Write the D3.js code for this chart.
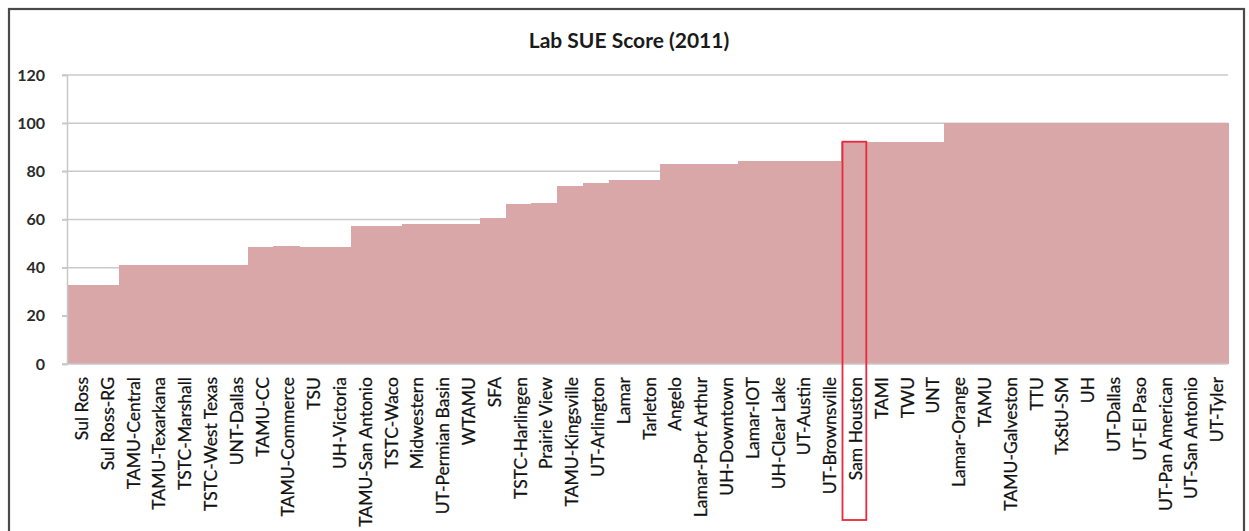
<!DOCTYPE html>
<html>
    <head>
        <meta charset="utf-8">
        <title>Lab SUE Score (2011)</title>
        <script src="https://d3js.org/d3.v7.min.js"></script>
        <style>
            body { margin: 0; background: #fff; }
            text { font-family: Lato, "Open Sans", sans-serif; }
        </style>
    </head>
    <body>
        <svg width="1249" height="531"></svg>

        <script>
            // campuses, in the order shown
            const campuses = ["Sul Ross", "Sul Ross-RG", "TAMU-Central", "TAMU-Texarkana", "TSTC-Marshall",
                "TSTC-West Texas", "UNT-Dallas", "TAMU-CC", "TAMU-Commerce", "TSU", "UH-Victoria",
                "TAMU-San Antonio", "TSTC-Waco", "Midwestern", "UT-Permian Basin", "WTAMU", "SFA",
                "TSTC-Harlingen", "Prairie View", "TAMU-Kingsville", "UT-Arlington", "Lamar", "Tarleton",
                "Angelo", "Lamar-Port Arthur", "UH-Downtown", "Lamar-IOT", "UH-Clear Lake", "UT-Austin",
                "UT-Brownsville", "Sam Houston", "TAMI", "TWU", "UNT", "Lamar-Orange", "TAMU",
                "TAMU-Galveston", "TTU", "TxStU-SM", "UH", "UT-Dallas", "UT-El Paso", "UT-Pan American",
                "UT-San Antonio", "UT-Tyler"];

            // lab SUE score
            const scores = [33, 33, 41, 41, 41, 41, 41, 48.7, 49.1, 48.7, 48.7,
                57.3, 57.3, 58, 58, 58.3, 60.5,
                66.4, 67, 74, 75, 76.5, 76.5,
                83, 83, 83, 84.4, 84.4, 84.4,
                84.4, 92.3, 92.3, 92.3, 92.3, 100, 100,
                100, 100, 100, 100, 100, 100, 100,
                100, 100];

            const yTicks = [0, 20, 40, 60, 80, 100, 120];
            const highlight = "Sam Houston";

            const data = campuses.map((c, i) => ({ name: c, score: scores[i] }));

            const svg = d3.select("svg");

            // outer frame
            svg.append("rect")
                .attr("x", 9).attr("y", 9)
                .attr("width", 1235).attr("height", 540)
                .attr("fill", "none")
                .attr("stroke", "#4a4a4a")
                .attr("stroke-width", 2.2);

            const x = d3.scaleBand()
                .domain(campuses)
                .range([67, 1228])
                .padding(0);

            const y = d3.scaleLinear()
                .domain([0, 120])
                .range([364, 75]);

            // title
            svg.append("text")
                .attr("x", 629)
                .attr("y", 48)
                .attr("text-anchor", "middle")
                .style("font-size", "21px")
                .style("font-weight", "bold")
                .style("fill", "#1a1a1a")
                .text("Lab SUE Score (2011)");

            // gridlines
            svg.append("g")
                .selectAll("line")
                .data(yTicks.filter(d => d > 0))
                .enter()
                .append("line")
                    .attr("x1", 62).attr("x2", 1228)
                    .attr("y1", d => y(d)).attr("y2", d => y(d))
                    .attr("stroke", "#cacaca")
                    .attr("stroke-width", 1.5);

            // bars
            svg.append("g")
                .selectAll("rect")
                .data(data)
                .enter()
                .append("rect")
                    .attr("x", d => x(d.name))
                    .attr("width", x.bandwidth() + 0.5)
                    .attr("y", d => y(d.score))
                    .attr("height", d => y(0) - y(d.score))
                    .attr("fill", "#d9a7a7")
                    .attr("shape-rendering", "crispEdges");

            // y axis
            const yAxis = svg.append("g")
                .attr("transform", "translate(67,0)")
                .call(d3.axisLeft(y).tickValues(yTicks).tickSize(5).tickPadding(17));
            yAxis.select(".domain").attr("stroke", "#c8c8c8").attr("stroke-width", 1.5);
            yAxis.selectAll(".tick line").attr("stroke", "#c8c8c8").attr("stroke-width", 1.5);
            yAxis.selectAll(".tick text")
                .style("font-family", "Lato, sans-serif")
                .style("font-size", "16px")
                .style("font-weight", "bold")
                .style("fill", "#2a2a2a");

            // baseline
            svg.append("line")
                .attr("x1", 62).attr("x2", 1228)
                .attr("y1", y(0)).attr("y2", y(0))
                .attr("stroke", "#c8c8c8")
                .attr("stroke-width", 1.5);

            // category labels
            svg.append("g")
                .selectAll("text")
                .data(campuses)
                .enter()
                .append("text")
                    .attr("transform", d => "translate(" + (x(d) + x.bandwidth() / 2 + 8) + ",377) rotate(-90)")
                    .attr("text-anchor", "end")
                    .style("font-size", "17.5px")
                    .style("fill", "#111")
                    .style("stroke", "#111")
                    .style("stroke-width", 0.25)
                    .text(d => d);

            // highlight box
            const hi = data.find(d => d.name === highlight);
            svg.append("rect")
                .attr("x", x(hi.name) + 1.5)
                .attr("y", y(hi.score))
                .attr("width", x.bandwidth() - 2)
                .attr("height", 520 - y(hi.score))
                .attr("fill", "none")
                .attr("stroke", "#e8283c")
                .attr("stroke-width", 1.8);
        </script>
    </body>
</html>
